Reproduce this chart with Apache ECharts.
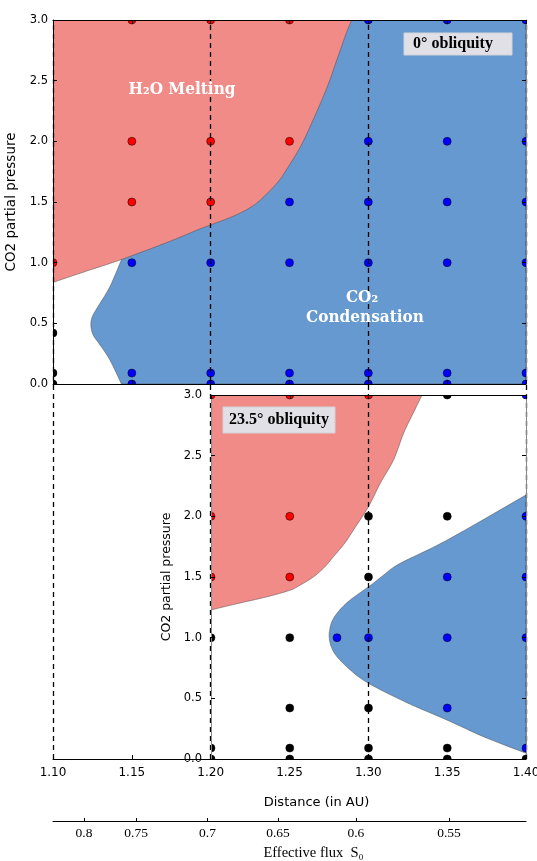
<!DOCTYPE html>
<html>
<head>
<meta charset="utf-8">
<script src="https://cdn.jsdelivr.net/npm/echarts@6/dist/echarts.min.js"></script>
<style>
html, body { margin: 0; padding: 0; background: #fff; }
#main { width: 537px; height: 861px; }
</style>
</head>
<body>
<div id="main"></div>
<script>
// axes
var distMin = 1.10, distMax = 1.40, insetMin = 1.20;
var pressMin = 0, pressMax = 3;
var fluxLabels = ['0.8', '0.75', '0.7', '0.65', '0.6', '0.55'];
var fluxDist = [1.1197, 1.1527, 1.198, 1.2427, 1.2921, 1.3512];
var guideDist = [1.10, 1.20, 1.30, 1.40];

// 0 deg obliquity : region edges (distance, pressure)
var topMeltEdge = [[1.100, 0.837], [1.120, 0.925], [1.143, 1.024], [1.174, 1.175], [1.193, 1.277], [1.214, 1.381],
	[1.227, 1.470], [1.236, 1.573], [1.243, 1.670], [1.248, 1.765], [1.257, 1.957], [1.265, 2.177],
	[1.274, 2.451], [1.280, 2.670], [1.286, 2.890], [1.2895, 3.0]];
var topCondEdge = [[1.1434, 0.0], [1.136, 0.20], [1.1297, 0.324], [1.1254, 0.406], [1.124, 0.488], [1.125, 0.557],
	[1.1286, 0.64], [1.136, 0.80], [1.1434, 1.024]];
// 0 deg obliquity : model runs
var topRed = [[1.10, 1.0], [1.15, 3.0], [1.15, 2.0], [1.15, 1.5], [1.20, 3.0], [1.20, 2.0], [1.20, 1.5], [1.25, 3.0], [1.25, 2.0]];
var topBlue = [[1.15, 1.0], [1.15, 0.09], [1.15, 0.0], [1.20, 1.0], [1.20, 0.09], [1.20, 0.0],
	[1.25, 1.5], [1.25, 1.0], [1.25, 0.09], [1.25, 0.0],
	[1.30, 3.0], [1.30, 2.0], [1.30, 1.5], [1.30, 1.0], [1.30, 0.09], [1.30, 0.0],
	[1.35, 3.0], [1.35, 2.0], [1.35, 1.5], [1.35, 1.0], [1.35, 0.09], [1.35, 0.0],
	[1.40, 3.0], [1.40, 2.0], [1.40, 1.5], [1.40, 1.0], [1.40, 0.09], [1.40, 0.0]];
var topBlack = [[1.10, 0.42], [1.10, 0.09], [1.10, 0.0]];

// 23.5 deg obliquity : region edges
var botMeltEdge = [[1.20, 1.228], [1.2165, 1.28], [1.235, 1.335], [1.25, 1.39], [1.2567, 1.434], [1.265, 1.50],
	[1.272, 1.58], [1.2778, 1.668], [1.285, 1.78], [1.2905, 1.888], [1.30, 2.08], [1.3075, 2.273],
	[1.3159, 2.465], [1.3223, 2.685], [1.328, 2.84], [1.334, 3.0]];
var botCondEdge = [[1.40, 2.176], [1.35, 1.805], [1.3202, 1.613], [1.310, 1.52], [1.3016, 1.434], [1.2884, 1.311],
	[1.2815, 1.225], [1.277, 1.14], [1.2753, 1.06], [1.2751, 0.995], [1.2765, 0.92], [1.28, 0.843],
	[1.2884, 0.734], [1.30, 0.624], [1.3244, 0.464], [1.35, 0.32], [1.373, 0.184], [1.3975, 0.06], [1.40, 0.05]];
// 23.5 deg obliquity : model runs
var botRed = [[1.20, 3.0], [1.20, 2.0], [1.20, 1.5], [1.25, 3.0], [1.25, 2.0], [1.25, 1.5], [1.30, 3.0]];
var botBlue = [[1.28, 1.0], [1.30, 1.0], [1.35, 1.5], [1.35, 1.0], [1.35, 0.42],
	[1.40, 3.0], [1.40, 2.0], [1.40, 1.5], [1.40, 1.0], [1.40, 0.09]];
var botBlack = [[1.20, 1.0], [1.20, 0.09], [1.20, 0.0], [1.25, 1.0], [1.25, 0.42], [1.25, 0.09], [1.25, 0.0],
	[1.30, 2.0], [1.30, 1.5], [1.30, 0.42], [1.30, 0.09], [1.30, 0.0],
	[1.35, 3.0], [1.35, 2.0], [1.35, 0.09], [1.35, 0.0], [1.40, 0.0]];

var meltColor = '#F08B88';
var condColor = '#6699CF';
var sans = '"DejaVu Sans", sans-serif';
var serif = '"Liberation Serif", serif';
var boldSerif = 'bold 17px "DejaVu Serif Condensed", "Liberation Serif", serif';

// catmull-rom through the pixel points so the contour edges come out round
function spline(px) {
	var out = [px[0]];
	for (var i = 0; i < px.length - 1; i++) {
		var p0 = px[i - 1] || px[i], p1 = px[i], p2 = px[i + 1], p3 = px[i + 2] || px[i + 1];
		var c1 = [p1[0] + (p2[0] - p0[0]) / 6, p1[1] + (p2[1] - p0[1]) / 6];
		var c2 = [p2[0] - (p3[0] - p1[0]) / 6, p2[1] - (p3[1] - p1[1]) / 6];
		for (var t = 1; t <= 8; t++) {
			var s = t / 8, u = 1 - s;
			out.push([
				u * u * u * p1[0] + 3 * u * u * s * c1[0] + 3 * u * s * s * c2[0] + s * s * s * p2[0],
				u * u * u * p1[1] + 3 * u * u * s * c1[1] + 3 * u * s * s * c2[1] + s * s * s * p2[1]
			]);
		}
	}
	return out;
}

function area(edge, frame, color, xi, yi) {
	return {
		type: 'custom',
		xAxisIndex: xi,
		yAxisIndex: yi,
		clip: true,
		silent: true,
		z: 1,
		data: [[1.3, 1.5]],
		renderItem: function(params, api) {
			var pts = spline(edge.map(function(p) { return api.coord(p); }))
				.concat(frame.map(function(p) { return api.coord(p); }));
			return {
				type: 'polygon',
				shape: { points: pts },
				style: { fill: color, stroke: 'rgba(70,70,70,0.8)', lineWidth: 0.6 }
			};
		}
	};
}

// circles drawn by a custom series so the frame cuts them in half like matplotlib
function dots(data, color, xi, yi) {
	return {
		type: 'custom',
		xAxisIndex: xi,
		yAxisIndex: yi,
		clip: true,
		silent: true,
		z: 4,
		data: data,
		renderItem: function(params, api) {
			var c = api.coord([api.value(0), api.value(1)]);
			return {
				type: 'circle',
				shape: { cx: c[0], cy: c[1], r: 4 },
				style: { fill: color, stroke: '#000', lineWidth: 0.5 }
			};
		}
	};
}

function tickAxis(grid, pos, min, max, lineColor, extra) {
	var a = {
		type: 'value',
		gridIndex: grid,
		position: pos,
		min: min,
		max: max,
		z: 5,
		splitLine: { show: false },
		axisLine: { show: true, onZero: false, lineStyle: { color: lineColor, width: 1 } },
		axisTick: { show: true, inside: true, length: 4, lineStyle: { color: '#000' } },
		axisLabel: { show: false }
	};
	for (var k in extra) a[k] = extra[k];
	return a;
}

var chart = echarts.init(document.getElementById('main'));

var yLabel = { show: true, fontFamily: sans, fontSize: 11.5, color: '#000', formatter: function(v) { return v.toFixed(1); } };
var topCondTop = topCondEdge[topCondEdge.length - 1][0];

chart.setOption({
	animation: false,
	grid: [
		{ left: 53, top: 20, width: 473, height: 364, outerBoundsMode: 'none' },
		{ left: 211, top: 395, width: 315, height: 364, outerBoundsMode: 'none' },
		{ left: 53, top: 20, width: 473, height: 739, outerBoundsMode: 'none' }
	],
	xAxis: [
		tickAxis(0, 'bottom', distMin, distMax, '#000', { interval: 0.05 }),
		tickAxis(0, 'top', distMin, distMax, '#000', { interval: 0.05 }),
		tickAxis(1, 'top', insetMin, distMax, '#000', { interval: 0.05 }),
		tickAxis(2, 'bottom', distMin, distMax, '#000', {
			interval: 0.05,
			axisLabel: { show: true, margin: 8, fontFamily: sans, fontSize: 12, color: '#000', formatter: function(v) { return v.toFixed(2); } },
			name: 'Distance (in AU)',
			nameLocation: 'middle',
			nameGap: 37,
			nameTextStyle: { fontFamily: sans, fontSize: 13, color: '#000', padding: [0, 0, 0, 54] }
		}),
		{
			type: 'value',
			gridIndex: 2,
			position: 'bottom',
			offset: 62,
			min: distMin,
			max: distMax,
			splitLine: { show: false },
			axisLine: { show: true, onZero: false, lineStyle: { color: '#000', width: 1 } },
			axisTick: { show: true, inside: true, length: 3, customValues: fluxDist, lineStyle: { color: '#000' } },
			axisLabel: {
				show: true, margin: 5, customValues: fluxDist, fontFamily: serif, fontSize: 13.5, color: '#000',
				formatter: function(v) {
					var best = 0;
					for (var i = 1; i < fluxDist.length; i++) {
						if (Math.abs(fluxDist[i] - v) < Math.abs(fluxDist[best] - v)) best = i;
					}
					return fluxLabels[best];
				}
			},
			name: 'Effective flux  S\u2080',
			nameLocation: 'middle',
			nameGap: 25,
			nameTextStyle: { fontFamily: serif, fontSize: 14.5, color: '#000', padding: [0, 0, 0, 48] }
		}
	],
	yAxis: [
		tickAxis(0, 'left', pressMin, pressMax, '#000', {
			interval: 0.5,
			axisLabel: Object.assign({ margin: 5 }, yLabel),
			name: 'CO2 partial pressure',
			nameLocation: 'middle',
			nameGap: 26,
			nameTextStyle: { fontFamily: sans, fontSize: 13.5, color: '#000' }
		}),
		tickAxis(0, 'right', pressMin, pressMax, '#888', { interval: 0.5 }),
		tickAxis(1, 'left', pressMin, pressMax, '#888', {
			interval: 0.5,
			axisLabel: Object.assign({ margin: 9 }, yLabel),
			name: 'CO2 partial pressure',
			nameLocation: 'middle',
			nameGap: 31,
			nameTextStyle: { fontFamily: sans, fontSize: 12.5, color: '#000' }
		}),
		tickAxis(1, 'right', pressMin, pressMax, '#888', { interval: 0.5 }),
		{ type: 'value', gridIndex: 2, min: 0, max: 1, show: false }
	],
	series: [
		area(topCondEdge, [[topCondTop, pressMax], [distMax, pressMax], [distMax, pressMin]], condColor, 0, 0),
		area(topMeltEdge, [[distMin, pressMax]], meltColor, 0, 0),
		area(botMeltEdge, [[insetMin, pressMax]], meltColor, 2, 2),
		area(botCondEdge, [], condColor, 2, 2),
		{
			type: 'line',
			xAxisIndex: 3,
			yAxisIndex: 4,
			data: [],
			clip: false,
			z: 3,
			markLine: {
				silent: true,
				symbol: 'none',
				label: { show: false },
				lineStyle: { color: '#000', type: [5, 4], width: 1.3 },
				data: guideDist.map(function(d) { return { xAxis: d }; })
			}
		},
		dots(topRed, '#FF0000', 0, 0),
		dots(topBlue, '#0000FF', 0, 0),
		dots(topBlack, '#000000', 0, 0),
		dots(botRed, '#FF0000', 2, 2),
		dots(botBlue, '#0000FF', 2, 2),
		dots(botBlack, '#000000', 2, 2)
	],
	graphic: [
		{ type: 'text', x: 182, y: 90, z: 10, style: { text: 'H\u2082O Melting', fill: '#fff', font: boldSerif, align: 'center', verticalAlign: 'middle', textAlign: 'center', textVerticalAlign: 'middle' } },
		{ type: 'text', x: 362, y: 298, z: 10, style: { text: 'CO\u2082', fill: '#fff', font: boldSerif, align: 'center', verticalAlign: 'middle', textAlign: 'center', textVerticalAlign: 'middle' } },
		{ type: 'text', x: 365, y: 318, z: 10, style: { text: 'Condensation', fill: '#fff', font: boldSerif, align: 'center', verticalAlign: 'middle', textAlign: 'center', textVerticalAlign: 'middle' } },
		{ type: 'rect', z: 10, shape: { x: 404, y: 33, width: 108, height: 22 }, style: { fill: '#E1E0E6', stroke: '#d2d2da', lineWidth: 1 } },
		{ type: 'text', x: 453, y: 44, z: 11, style: { text: '0\u00b0 obliquity', fill: '#000', font: 'bold 16px "Liberation Serif", serif', align: 'center', verticalAlign: 'middle', textAlign: 'center', textVerticalAlign: 'middle' } },
		{ type: 'rect', z: 10, shape: { x: 223, y: 407, width: 112, height: 26 }, style: { fill: '#E1E0E6', stroke: '#d2d2da', lineWidth: 1 } },
		{ type: 'text', x: 279, y: 420, z: 11, style: { text: '23.5\u00b0 obliquity', fill: '#000', font: 'bold 16px "Liberation Serif", serif', align: 'center', verticalAlign: 'middle', textAlign: 'center', textVerticalAlign: 'middle' } }
	]
});
</script>
</body>
</html>
